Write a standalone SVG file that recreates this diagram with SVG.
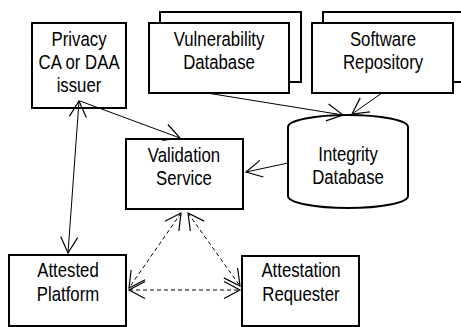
<svg xmlns="http://www.w3.org/2000/svg" width="461" height="327" viewBox="0 0 461 327">
<style>
.box{fill:#fff;stroke:#000;stroke-width:2}
.t{font-family:"Liberation Sans",Arial,sans-serif;font-size:19.5px;text-anchor:middle;fill:#000;transform-box:fill-box;transform-origin:center;transform:scaleX(0.86)}
.c{fill:none;stroke:#000;stroke-width:1}
.d{stroke-dasharray:4 3}
</style>
<defs>
<marker id="ah" viewBox="-18 -10 20 20" markerWidth="20" markerHeight="20" refX="0" refY="0" orient="auto-start-reverse" markerUnits="userSpaceOnUse">
<path d="M-16,-8.5 L0,0 L-16,8.5" fill="none" stroke="#000" stroke-width="1.2"/>
</marker>
</defs>
<rect width="461" height="327" fill="#fff"/>
<g id="privacy">
<rect class="box" x="32" y="23" width="94" height="85"/>
<text class="t" x="79" y="46">Privacy</text>
<text class="t" x="79" y="69">CA or DAA</text>
<text class="t" x="79" y="92">issuer</text>
</g>
<g id="vulnerability">
<rect class="box" x="160" y="12" width="141" height="70"/>
<rect class="box" x="149" y="23" width="140" height="70"/>
<text class="t" x="219" y="46">Vulnerability</text>
<text class="t" x="219" y="69">Database</text>
</g>
<g id="software">
<rect class="box" x="323" y="12" width="145" height="70"/>
<rect class="box" x="312" y="23" width="141" height="70"/>
<text class="t" x="383" y="46">Software</text>
<text class="t" x="383" y="69">Repository</text>
</g>
<g id="validation">
<rect class="box" x="126" y="139" width="117" height="70"/>
<text class="t" x="184" y="162">Validation</text>
<text class="t" x="184" y="185">Service</text>
</g>
<g id="integrity">
<path class="box" d="M288,127 A60,12 0 0 1 408,127 L408,196 A60,12 0 0 1 288,196 Z"/>
<text class="t" x="348" y="161">Integrity</text>
<text class="t" x="348" y="184">Database</text>
</g>
<g id="attested">
<rect class="box" x="9" y="255" width="117" height="71"/>
<text class="t" x="68" y="277">Attested</text>
<text class="t" x="68" y="301">Platform</text>
</g>
<g id="requester">
<rect class="box" x="242" y="256" width="117" height="70"/>
<text class="t" x="301" y="277">Attestation</text>
<text class="t" x="301" y="301">Requester</text>
</g>
<g id="connectors">
<line class="c" x1="79" y1="101" x2="68" y2="253" marker-start="url(#ah)" marker-end="url(#ah)"/>
<line class="c" x1="80" y1="101" x2="180" y2="138" marker-end="url(#ah)"/>
<line class="c" x1="207" y1="93" x2="343" y2="115" marker-end="url(#ah)"/>
<line class="c" x1="382" y1="93" x2="352" y2="114" marker-end="url(#ah)"/>
<line class="c" x1="288" y1="163" x2="246" y2="172" marker-end="url(#ah)"/>
<line class="c d" x1="181" y1="213" x2="129" y2="288" marker-start="url(#ah)" marker-end="url(#ah)"/>
<line class="c d" x1="188" y1="213" x2="240" y2="286" marker-start="url(#ah)" marker-end="url(#ah)"/>
<line class="c d" x1="129" y1="290" x2="240" y2="290" marker-start="url(#ah)" marker-end="url(#ah)"/>
</g>
</svg>
